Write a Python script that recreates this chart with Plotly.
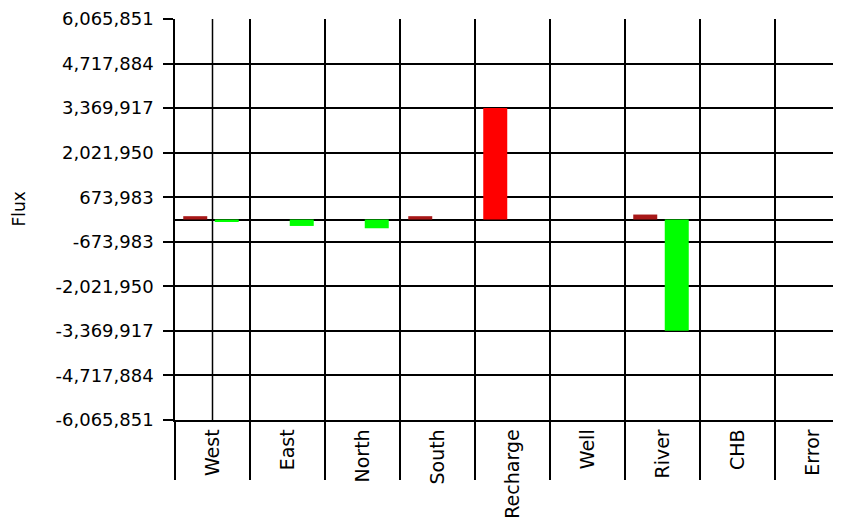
import plotly.graph_objects as go

# budget terms
categories = ["West", "East", "North", "South", "Recharge", "Well", "River", "CHB", "Error"]
flux_in = [100000, 0, 0, 100000, 3369917, 0, 150000, 0, 0]
flux_out = [-75000, -195000, -265000, 0, 0, 0, -3365000, 0, 0]

y_ticks = [6065851, 4717884, 3369917, 2021950, 673983,
           -673983, -2021950, -3369917, -4717884, -6065851]

font = dict(family="DejaVu Sans", size=18, color="black")

# thin "in" bars come out dark red in the original (edge shading dominates)
in_colors = ["#a81818" if abs(v) < 500000 else "#ff0000" for v in flux_in]

fig = go.Figure()
fig.add_trace(go.Bar(x=categories, y=flux_in, name="In",
                     marker=dict(color=in_colors, line=dict(width=0)),
                     width=0.32, offset=-0.39))
fig.add_trace(go.Bar(x=categories, y=flux_out, name="Out",
                     marker=dict(color="#00ff00", line=dict(width=0)),
                     width=0.32, offset=0.03))

# page body has an 8px margin, so shift the plot area up/left by that
fig.update_layout(
    width=841, height=525,
    margin=dict(l=167, r=8, t=11, b=113),
    paper_bgcolor="white", plot_bgcolor="white",
    showlegend=False, font=font,
)

fig.update_yaxes(
    automargin=False,
    range=[y_ticks[-1], y_ticks[0]],
    tickvals=y_ticks, ticktext=[f"{v:,}" for v in y_ticks],
    showgrid=True, gridcolor="black", gridwidth=1.5,
    zeroline=True, zerolinecolor="black", zerolinewidth=1.5,
    showline=True, linecolor="black", linewidth=1.5,
    ticks="outside", ticklen=10, tickcolor="black", tickwidth=1.5,
    ticklabelstandoff=6,
)
fig.update_xaxes(
    automargin=False,
    type="category",
    range=[-0.5, -0.5 + 666 / 75],
    tickson="boundaries",
    showgrid=True, gridcolor="black", gridwidth=1.5,
    showline=True, linecolor="black", linewidth=1.5,
    ticks="outside", ticklen=58, tickcolor="black", tickwidth=1.5,
    tickangle=-90, tickfont=dict(size=19),
)

# stray line through the first column, as in the original
fig.add_shape(type="line", xref="x", yref="paper", x0=categories[0], x1=categories[0],
              y0=0, y1=1, line=dict(color="black", width=1.5), layer="below")

fig.add_annotation(text="Flux", xref="paper", yref="paper",
                   x=(-1 - 167) / 666, y=0.525, textangle=-90, showarrow=False,
                   font=dict(family="DejaVu Sans", size=17, color="black"))

fig.write_html("out.html")
